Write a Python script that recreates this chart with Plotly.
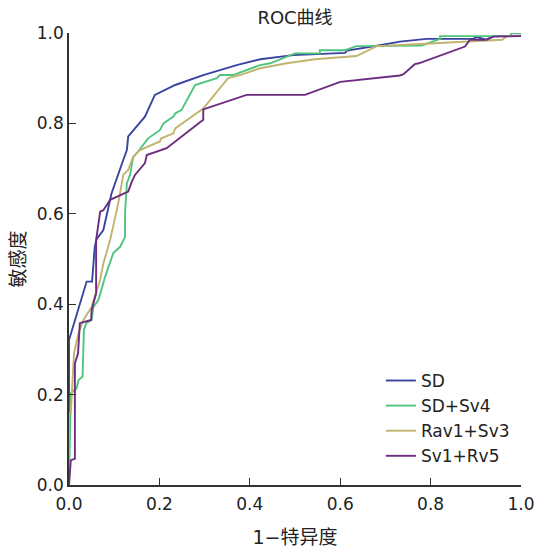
import plotly.graph_objects as go

# ROC curve points (1-specificity, sensitivity)
sd_x = [0, 0, 0.039, 0.051, 0.057, 0.061, 0.076, 0.083, 0.094, 0.120, 0.128, 0.131, 0.168, 0.190, 0.235,
        0.297, 0.371, 0.423, 0.496, 0.611, 0.615, 0.688, 0.732, 0.791, 0.894, 0.902, 0.923, 0.938, 1.0]
sd_y = [0, 0.321, 0.450, 0.450, 0.527, 0.544, 0.564, 0.594, 0.645, 0.719, 0.741, 0.771, 0.815, 0.863, 0.885,
        0.907, 0.929, 0.942, 0.951, 0.956, 0.961, 0.973, 0.981, 0.987, 0.987, 0.991, 0.985, 0.993, 0.994]

sdsv4_x = [0, 0.004, 0.017, 0.021, 0.030, 0.033, 0.038, 0.050, 0.054, 0.065, 0.080, 0.098, 0.113, 0.124, 0.124,
           0.128, 0.135, 0.142, 0.150, 0.175, 0.201, 0.209, 0.231, 0.235, 0.249, 0.279, 0.327, 0.334, 0.363,
           0.423, 0.445, 0.500, 0.555, 0.555, 0.611, 0.636, 0.780, 0.821, 0.821, 0.976, 0.979, 1.0]
sdsv4_y = [0, 0.203, 0.214, 0.232, 0.240, 0.343, 0.358, 0.365, 0.394, 0.409, 0.461, 0.513, 0.527, 0.549, 0.601,
           0.667, 0.686, 0.726, 0.734, 0.767, 0.785, 0.800, 0.815, 0.822, 0.830, 0.885, 0.900, 0.907, 0.907,
           0.929, 0.933, 0.955, 0.955, 0.962, 0.962, 0.971, 0.972, 0.987, 0.993, 0.993, 1.0, 1.0]

rav1sv3_x = [0, 0, 0.004, 0.011, 0.021, 0.032, 0.050, 0.061, 0.069, 0.076, 0.091, 0.109, 0.117, 0.120, 0.131,
             0.142, 0.157, 0.201, 0.204, 0.231, 0.235, 0.297, 0.352, 0.378, 0.423, 0.482, 0.544, 0.636, 0.681,
             0.732, 0.821, 0.958, 0.969, 1.0]
rav1sv3_y = [0, 0.159, 0.159, 0.290, 0.336, 0.365, 0.394, 0.431, 0.454, 0.490, 0.542, 0.623, 0.667, 0.686, 0.697,
             0.726, 0.741, 0.760, 0.767, 0.778, 0.789, 0.833, 0.900, 0.907, 0.922, 0.933, 0.942, 0.949, 0.971,
             0.973, 0.978, 0.985, 0.993, 0.993]

sv1rv5_x = [0, 0.004, 0.013, 0.013, 0.020, 0.024, 0.049, 0.050, 0.060, 0.060, 0.069, 0.076, 0.091, 0.131, 0.139,
            0.146, 0.168, 0.172, 0.216, 0.256, 0.297, 0.297, 0.393, 0.522, 0.600, 0.732, 0.740, 0.765, 0.774,
            0.876, 0.887, 0.924, 0.939, 1.0]
sv1rv5_y = [0, 0.055, 0.058, 0.269, 0.291, 0.358, 0.365, 0.387, 0.424, 0.542, 0.605, 0.608, 0.631, 0.649, 0.671,
            0.686, 0.712, 0.730, 0.745, 0.777, 0.808, 0.831, 0.863, 0.863, 0.892, 0.906, 0.909, 0.931, 0.933,
            0.970, 0.985, 0.985, 0.992, 0.993]

names = ["SD", "SD+Sv4", "Rav1+Sv3", "Sv1+Rv5"]
colors = ["#3a44a0", "#4fc47c", "#c0b46e", "#6d2c80"]
curves = [(sd_x, sd_y), (sdsv4_x, sdsv4_y), (rav1sv3_x, rav1sv3_y), (sv1rv5_x, sv1rv5_y)]

font_fam = "DejaVu Sans, Noto Sans CJK SC, sans-serif"

fig = go.Figure()
for (xs, ys), nm, c in zip(curves, names, colors):
    fig.add_trace(go.Scatter(x=xs, y=ys, mode="lines", name=nm,
                             line=dict(color=c, width=1.9), cliponaxis=False))

axis_style = dict(range=[0, 1], dtick=0.2, tickformat=".1f", showgrid=False, zeroline=False,
                  showline=True, linecolor="#333333", linewidth=1.5, automargin=False,
                  ticks="inside", ticklen=7, tickwidth=1.3, tickcolor="#333333",
                  tickfont=dict(size=17, color="#222222"), fixedrange=True)

fig.update_layout(
    width=536, height=549,
    margin=dict(l=69, r=15, t=33, b=64),
    paper_bgcolor="white", plot_bgcolor="white",
    font=dict(family=font_fam, color="#222222"),
    title=dict(text="ROC曲线", x=295 / 536, xanchor="center", y=1 - 18 / 549, yanchor="middle",
               font=dict(size=18, color="#222222")),
    xaxis=dict(axis_style, ticklabelstandoff=3,
               title=dict(text="1\u2212特异度", font=dict(size=19), standoff=18)),
    yaxis=dict(axis_style, title=dict(text="敏感度", font=dict(size=19), standoff=6)),
    legend=dict(x=0.690, y=0.270, xanchor="left", yanchor="top", bgcolor="rgba(0,0,0,0)",
                font=dict(size=17, color="#222222"), tracegroupgap=0),
    showlegend=True,
)

# drop the default body margin so the 536x549 figure fills the window exactly
fig.write_html("out.html", config={"displayModeBar": False},
               post_script="document.body.style.margin='0px';")
